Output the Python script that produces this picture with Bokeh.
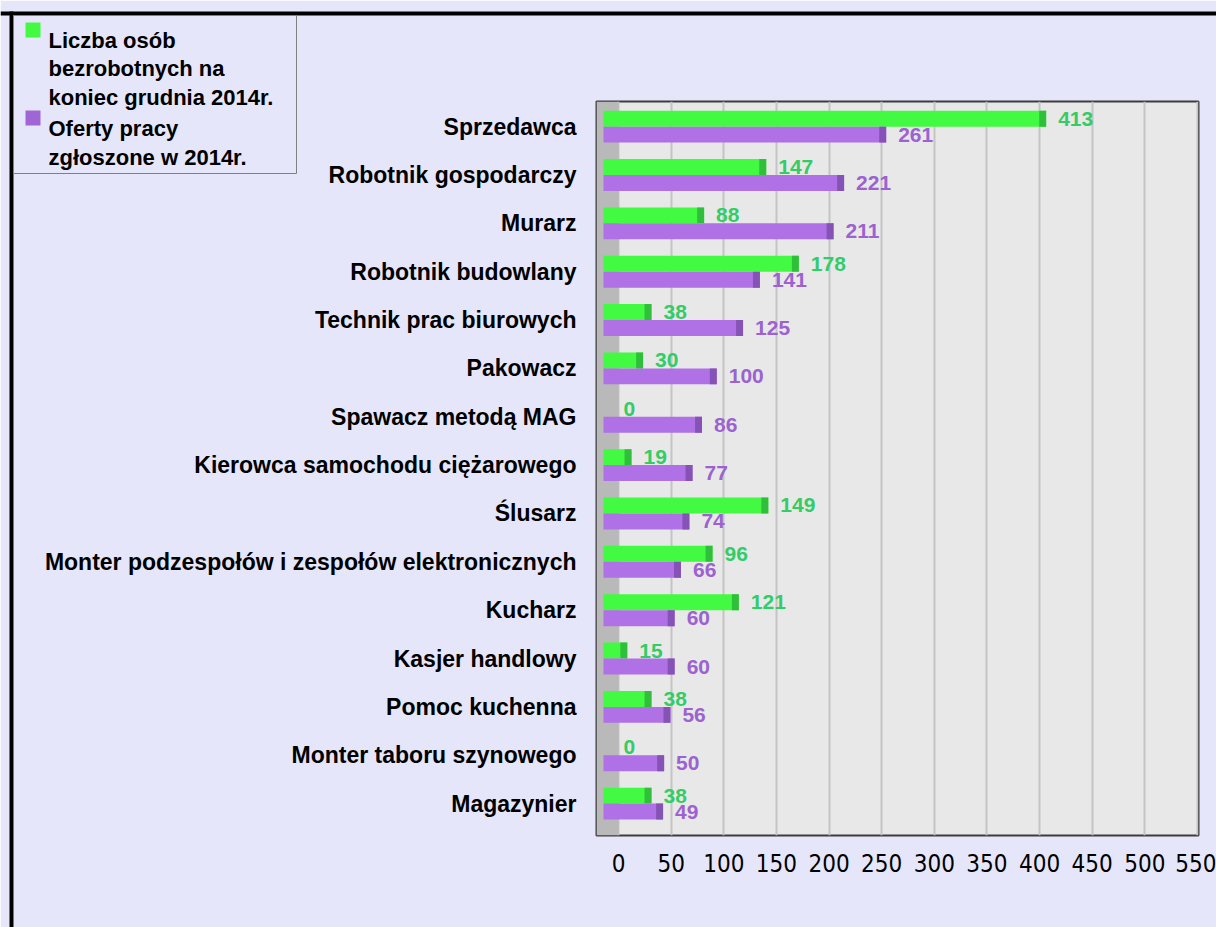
import numpy as np
from bokeh.plotting import figure
from bokeh.models import Range1d, FixedTicker, ColumnDataSource, BoxAnnotation
from bokeh.transform import dodge
from bokeh.core.properties import value
from bokeh.embed import file_html
from bokeh.resources import INLINE

# ---------------- data ----------------
categories = [
    "Sprzedawca",
    "Robotnik gospodarczy",
    "Murarz",
    "Robotnik budowlany",
    "Technik prac biurowych",
    "Pakowacz",
    "Spawacz metodą MAG",
    "Kierowca samochodu ciężarowego",
    "Ślusarz",
    "Monter podzespołów i zespołów elektronicznych",
    "Kucharz",
    "Kasjer handlowy",
    "Pomoc kuchenna",
    "Monter taboru szynowego",
    "Magazynier",
]
unemployed = [413, 147, 88, 178, 38, 30, 0, 19, 149, 96, 121, 15, 38, 0, 38]
offers = [261, 221, 211, 141, 125, 100, 86, 77, 74, 66, 60, 60, 56, 50, 49]
series_names = [
    "Liczba osób\nbezrobotnych na\nkoniec grudnia 2014r.",
    "Oferty pracy\nzgłoszone w 2014r.",
]
x_ticks = [0, 50, 100, 150, 200, 250, 300, 350, 400, 450, 500, 550]

# ---------------- style constants ----------------
W, H = 1216, 927
X0, X1 = -21, 551          # back wall range
SHIFT = 6.75               # front plane offset (data units)
BAR_START = -7.6           # bars visibly begin a bit left of origin (front units)
CAP = 6.6                  # darker side face width
BAR_H = 0.33
OFF = 0.165
GREEN, GREEN_D, GREEN_T = "#42fa42", "#2fbf3a", "#33cc66"
PURPLE, PURPLE_D, PURPLE_T = "#b070e6", "#8552b5", "#9b62d0"
PAGE_BG = "#e6e6fa"
FONT = "Liberation Sans"

idx = np.arange(len(categories))
u = np.array(unemployed, dtype=float)
o = np.array(offers, dtype=float)


def bar_source(vals, pos):
    left = np.where(vals > 0, BAR_START, 0.0)
    cap_left = np.where(vals > 0, np.maximum(vals - CAP, BAR_START), 0.0)
    return ColumnDataSource(dict(
        y=idx + pos, v=vals, left=left, cap_left=cap_left,
        label=[str(int(x)) for x in vals],
    ))


src_u = bar_source(u, -OFF)
src_o = bar_source(o, OFF)

p = figure(
    width=W, height=H,
    x_range=Range1d(X0, X1),
    y_range=Range1d(len(categories) - 1 + 0.66, -0.52),
    output_backend="svg", toolbar_location=None,
    min_border_left=596, min_border_right=18, min_border_top=101, min_border_bottom=92,
)
p.extra_x_ranges = {"front": Range1d(X0 + SHIFT, X1 + SHIFT)}

p.background_fill_color = "#e8e8e8"
p.border_fill_color = PAGE_BG
p.outline_line_color = "#3c3c3c"
p.outline_line_width = 2

# left wall
p.add_layout(BoxAnnotation(right=0, fill_color="#b9b9b9", fill_alpha=1,
                           line_color=None, level="underlay"))

# bars
p.hbar(y="y", left="left", right="v", height=BAR_H, source=src_u,
       x_range_name="front", fill_color=GREEN, line_color=None)
p.hbar(y="y", left="cap_left", right="v", height=BAR_H, source=src_u,
       x_range_name="front", fill_color=GREEN_D, line_color=None)
p.hbar(y="y", left="left", right="v", height=BAR_H, source=src_o,
       x_range_name="front", fill_color=PURPLE, line_color=None)
p.hbar(y="y", left="cap_left", right="v", height=BAR_H, source=src_o,
       x_range_name="front", fill_color=PURPLE_D, line_color=None)

# value labels
for src, col in ((src_u, GREEN_T), (src_o, PURPLE_T)):
    p.text(x=dodge("v", 11.4), y="y", text="label", source=src, x_range_name="front",
           text_color=col, text_font=value(FONT), text_font_style="bold",
           text_font_size="21px", text_baseline="middle", text_align="left")

# axes
p.xaxis.ticker = FixedTicker(ticks=x_ticks)
p.xaxis.axis_line_color = None
p.xaxis.major_tick_line_color = None
p.xaxis.minor_tick_line_color = None
p.xaxis.major_label_text_font = "Liberation Sans Narrow, DejaVu Sans Condensed, Liberation Sans"
p.xaxis.major_label_text_font_size = "24px"
p.xaxis.major_label_text_color = "#000000"
p.xaxis.major_label_standoff = 12

p.yaxis.ticker = FixedTicker(ticks=list(idx))
p.yaxis.major_label_overrides = {int(i): c for i, c in zip(idx, categories)}
p.yaxis.axis_line_color = None
p.yaxis.major_tick_line_color = None
p.yaxis.minor_tick_line_color = None
p.yaxis.major_label_text_font = FONT
p.yaxis.major_label_text_font_style = "bold"
p.yaxis.major_label_text_font_size = "23px"
p.yaxis.major_label_text_color = "#000000"
p.yaxis.major_label_standoff = 14

p.xgrid.ticker = FixedTicker(ticks=x_ticks)
p.xgrid.grid_line_color = "#c4c4c4"
p.xgrid.grid_line_width = 2
p.ygrid.grid_line_color = None

# ---------------- overlay: legend box and page border (pixel coordinates) ----------------
q = figure(
    width=W, height=H, x_range=Range1d(0, W), y_range=Range1d(H, 0),
    output_backend="svg", toolbar_location=None,
    min_border=0, x_axis_location=None, y_axis_location=None,
)
q.grid.visible = False
q.outline_line_color = None
q.background_fill_alpha = 0
q.border_fill_alpha = 0
q.styles = {"position": "absolute", "top": "0px", "left": "0px"}

# black lines framing the picture
q.quad(left=[0, 9], right=[W, 13], top=[11, 11], bottom=[15, H],
       fill_color="black", line_color=None)
# legend box
q.quad(left=[13], right=[296], top=[15], bottom=[173],
       fill_color=PAGE_BG, line_color="#808080", line_width=1)
q.quad(left=[25, 25], right=[40, 40], top=[22, 110], bottom=[37, 125],
       fill_color=[GREEN, "#a066d6"], line_color=None)
legend_lines = series_names[0].split("\n") + series_names[1].split("\n")
q.text(x=[48] * len(legend_lines), y=[40, 68, 97, 128, 157], text=legend_lines,
       text_font=value(FONT), text_font_style="bold", text_font_size="22px",
       text_color="#000000", text_baseline="alphabetic", text_align="left")

open("out.html", "w").write(file_html([p, q], INLINE))
